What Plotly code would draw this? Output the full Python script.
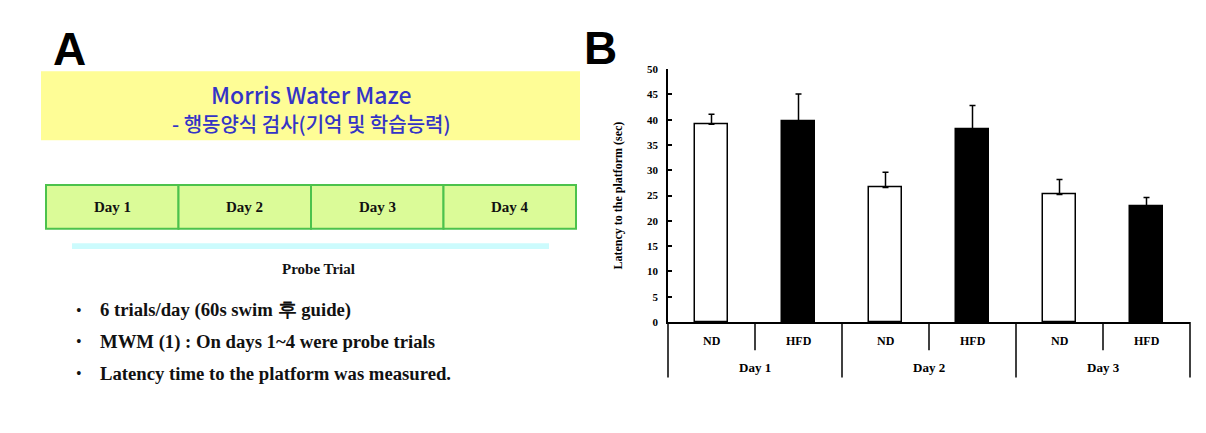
import plotly.graph_objects as go

W, H = 1206, 433

# ---- data (panel B) ----
groups = ["ND", "HFD", "ND", "HFD", "ND", "HFD"]
days_b = ["Day 1", "Day 2", "Day 3"]
latency = [39.1, 39.8, 26.6, 38.1, 25.2, 23.0]
sem = [2.0, 5.3, 3.0, 4.7, 3.0, 1.6]
bar_colors = ["white", "black", "white", "black", "white", "black"]

# ---- text (panel A) ----
days_a = ["Day 1", "Day 2", "Day 3", "Day 4"]
bullets = [
    "6 trials/day (60s swim 후 guide)",
    "MWM (1) : On days 1~4 were probe trials",
    "Latency time to the platform was measured.",
]


def px(x):
    return x / W


def py(y):
    return 1 - y / H


SERIF = "Liberation Serif"
SANS = "Liberation Sans"
KR = "Noto Sans CJK KR"


def ann(x, y, text, font, xanchor="center", **kw):
    d = dict(x=x, y=y, text=text, showarrow=False, xanchor=xanchor, yanchor="middle", font=font)
    d.setdefault("xref", "paper")
    d.setdefault("yref", "paper")
    d.update(kw)
    return d


fig = go.Figure()

xs = list(range(len(groups)))
fig.add_trace(go.Bar(
    x=xs, y=latency, width=0.39,
    marker=dict(color=bar_colors, line=dict(color="black", width=1.5)),
    error_y=dict(type="data", symmetric=False, array=sem,
                 arrayminus=[0] * len(sem), color="black", thickness=1.5, width=3),
    showlegend=False, hoverinfo="skip",
))

shapes = []
annotations = []

# ---- Panel B axes decorations ----
y0_dom = -(354 - 325) / 260  # short divider bottom in y-domain units
y1_dom = -(382 - 325) / 260  # long divider bottom
n = len(groups)
for k in range(n + 1):
    bottom = y1_dom if k % 2 == 0 else y0_dom
    shapes.append(dict(type="line", xref="x domain", yref="y domain",
                       x0=k / n, x1=k / n, y0=0, y1=bottom,
                       line=dict(color="black", width=1.5)))

f_grp = dict(family=SERIF, size=12, color="black", weight="bold")
f_day = dict(family=SERIF, size=13, color="black", weight="bold")
for i, g in enumerate(groups):
    annotations.append(ann(i, py(345), g, f_grp, xref="x"))
for j, d in enumerate(days_b):
    annotations.append(ann(2 * j + 0.5, py(372), d, f_day, xref="x"))

annotations.append(ann(px(618), py(195), "Latency to the platform (sec)",
                       dict(family=SERIF, size=12, color="black", weight="bold"), textangle=-90))

# Panel letters
f_letter = dict(family=SANS, size=46, color="black", weight="bold")
annotations.append(ann(px(69), py(44), "A", f_letter))
annotations.append(ann(px(600), py(43), "B", f_letter))

# ---- Panel A ----
shapes.append(dict(type="rect", xref="paper", yref="paper",
                   x0=px(41), x1=px(580), y0=py(67), y1=py(138),
                   fillcolor="#FEFD96", line=dict(width=0), layer="below"))
f_blue1 = dict(family=KR, size=23, color="#3434C6", weight=500)
f_blue2 = dict(family=KR, size=20, color="#3434C6", weight=500)
annotations.append(ann(px(311), py(91), "Morris Water Maze", f_blue1))
annotations.append(ann(px(311), py(121), "- 행동양식 검사(기억 및 학습능력)", f_blue2))

cell_l, cell_r = 46, 576
cw = (cell_r - cell_l) / len(days_a)
f_cell = dict(family=SERIF, size=15, color="#111111", weight="bold")
for i, d in enumerate(days_a):
    x0 = cell_l + i * cw
    shapes.append(dict(type="rect", xref="paper", yref="paper",
                       x0=px(x0), x1=px(x0 + cw), y0=py(184), y1=py(229),
                       fillcolor="#DBFB98", line=dict(color="#4CC24C", width=2)))
    annotations.append(ann(px(x0 + cw / 2), py(207), d, f_cell))

shapes.append(dict(type="rect", xref="paper", yref="paper",
                   x0=px(72), x1=px(549), y0=py(244), y1=py(250),
                   fillcolor="#CCFBFD", line=dict(width=0)))
annotations.append(ann(px(318), py(270), "Probe Trial", f_cell))

f_bul = dict(family=SERIF, size=18.7, color="#111111", weight="bold")
f_dot = dict(family=SERIF, size=16, color="#111111")
for k, b in enumerate(bullets):
    yy = py(313 + 32.5 * k)
    annotations.append(ann(px(79), yy, "•", f_dot))
    annotations.append(ann(px(98), yy, b, f_bul, xanchor="left"))

fig.update_layout(
    width=W, height=H, margin=dict(l=0, r=0, t=0, b=0),
    paper_bgcolor="white", plot_bgcolor="white",
    shapes=shapes, annotations=annotations,
    xaxis=dict(domain=[px(668), px(1190)], range=[-0.5, 5.5], showgrid=False, zeroline=False,
               showline=True, linecolor="black", linewidth=1.5, showticklabels=False, ticks=""),
    yaxis=dict(domain=[py(325), py(65)], range=[0, 50], showgrid=False, zeroline=False,
               showline=True, linecolor="black", linewidth=1.5,
               ticks="inside", ticklen=4, tickwidth=1.5, tickcolor="black",
               tickvals=list(range(0, 51, 5)), ticklabelstandoff=6,
               tickfont=dict(family=SERIF, size=11, color="black", weight="bold")),
    bargap=0,
)

fig.write_html("out.html", post_script="document.body.style.margin='0';",
               config={"displayModeBar": False})
